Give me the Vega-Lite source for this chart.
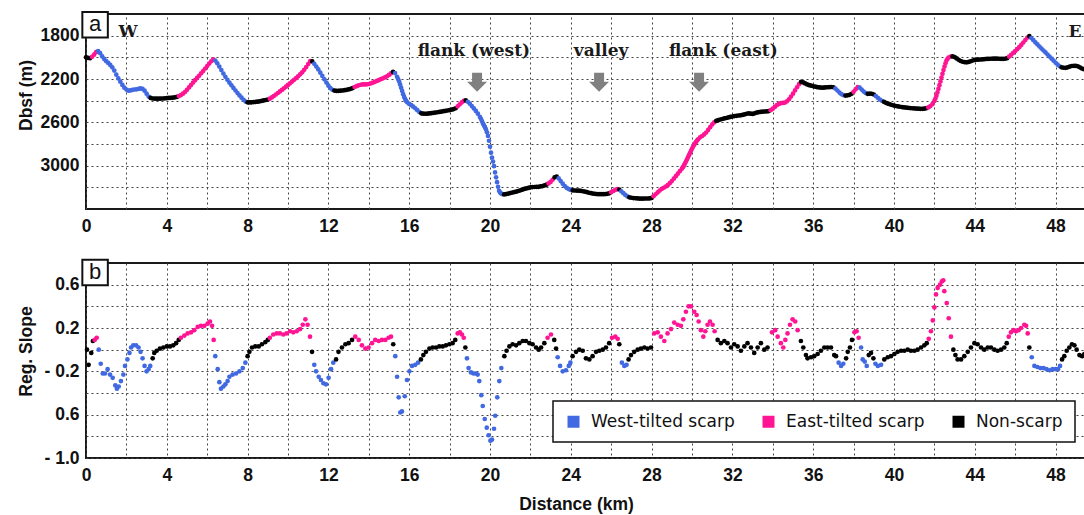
{
"$schema": "https://vega.github.io/schema/vega-lite/v6.json",
"padding": {"left": 16, "top": 6, "right": 0, "bottom": 2},
"spacing": 18,
"background": "white",
"config": {
  "view": {"stroke": "#1a1a1a", "strokeWidth": 2},
  "axis": {"grid": true, "gridDash": [2, 3], "gridColor": "#444", "gridWidth": 1, "domain": false, "ticks": false, "labelFlush": false,
    "labelFont": "Liberation Sans", "labelFontWeight": "bold", "labelFontSize": 17.5, "labelColor": "#111",
    "titleFont": "Liberation Sans", "titleFontWeight": "bold", "titleFontSize": 17.5, "titleColor": "#111"},
  "legend": {"strokeWidth": 1.5}
},
"resolve": {"scale": {"color": "independent"}},
"datasets": {
"prof": [
{"x":0,"d":2000,"c":"N"},{"x":0.1,"d":2005,"c":"N"},{"x":0.2,"d":2008,"c":"N"},{"x":0.3,"d":1995,"c":"E"},{"x":0.4,"d":1975,"c":"E"},{"x":0.5,"d":1952,"c":"E"},
{"x":0.6,"d":1942,"c":"W"},{"x":0.7,"d":1962,"c":"W"},{"x":0.8,"d":1992,"c":"W"},{"x":0.9,"d":2015,"c":"W"},{"x":1.0,"d":2035,"c":"W"},{"x":1.1,"d":2052,"c":"W"},{"x":1.2,"d":2070,"c":"W"},{"x":1.3,"d":2092,"c":"W"},{"x":1.4,"d":2122,"c":"W"},{"x":1.5,"d":2160,"c":"W"},{"x":1.6,"d":2195,"c":"W"},{"x":1.7,"d":2225,"c":"W"},{"x":1.8,"d":2255,"c":"W"},{"x":1.9,"d":2280,"c":"W"},{"x":2.0,"d":2298,"c":"W"},{"x":2.1,"d":2308,"c":"W"},{"x":2.2,"d":2305,"c":"W"},{"x":2.3,"d":2300,"c":"W"},{"x":2.4,"d":2297,"c":"W"},{"x":2.5,"d":2295,"c":"W"},{"x":2.6,"d":2292,"c":"W"},{"x":2.7,"d":2287,"c":"W"},{"x":2.8,"d":2292,"c":"W"},{"x":2.9,"d":2308,"c":"W"},{"x":3.0,"d":2335,"c":"W"},{"x":3.1,"d":2362,"c":"W"},
{"x":3.2,"d":2375,"c":"N"},{"x":3.3,"d":2380,"c":"N"},{"x":3.4,"d":2381,"c":"N"},{"x":3.5,"d":2382,"c":"N"},{"x":3.6,"d":2382,"c":"N"},{"x":3.7,"d":2381,"c":"N"},{"x":3.8,"d":2380,"c":"N"},{"x":3.9,"d":2378,"c":"N"},{"x":4.0,"d":2377,"c":"N"},{"x":4.1,"d":2375,"c":"N"},{"x":4.2,"d":2374,"c":"N"},{"x":4.3,"d":2372,"c":"N"},{"x":4.4,"d":2369,"c":"N"},{"x":4.5,"d":2365,"c":"N"},
{"x":4.6,"d":2358,"c":"E"},{"x":4.7,"d":2348,"c":"E"},{"x":4.8,"d":2335,"c":"E"},{"x":4.9,"d":2320,"c":"E"},{"x":5.0,"d":2300,"c":"E"},{"x":5.1,"d":2278,"c":"E"},{"x":5.2,"d":2256,"c":"E"},{"x":5.3,"d":2233,"c":"E"},{"x":5.4,"d":2211,"c":"E"},{"x":5.5,"d":2190,"c":"E"},{"x":5.6,"d":2170,"c":"E"},{"x":5.7,"d":2148,"c":"E"},{"x":5.8,"d":2126,"c":"E"},{"x":5.9,"d":2103,"c":"E"},{"x":6.0,"d":2080,"c":"E"},{"x":6.1,"d":2058,"c":"E"},{"x":6.2,"d":2036,"c":"E"},{"x":6.3,"d":2018,"c":"E"},
{"x":6.4,"d":2030,"c":"W"},{"x":6.5,"d":2055,"c":"W"},{"x":6.6,"d":2085,"c":"W"},{"x":6.7,"d":2118,"c":"W"},{"x":6.8,"d":2150,"c":"W"},{"x":6.9,"d":2180,"c":"W"},{"x":7.0,"d":2208,"c":"W"},{"x":7.1,"d":2234,"c":"W"},{"x":7.2,"d":2258,"c":"W"},{"x":7.3,"d":2282,"c":"W"},{"x":7.4,"d":2306,"c":"W"},{"x":7.5,"d":2330,"c":"W"},{"x":7.6,"d":2352,"c":"W"},{"x":7.7,"d":2372,"c":"W"},{"x":7.8,"d":2392,"c":"W"},{"x":7.9,"d":2408,"c":"W"},
{"x":8.0,"d":2415,"c":"N"},{"x":8.1,"d":2416,"c":"N"},{"x":8.2,"d":2415,"c":"N"},{"x":8.3,"d":2413,"c":"N"},{"x":8.4,"d":2411,"c":"N"},{"x":8.5,"d":2409,"c":"N"},{"x":8.6,"d":2406,"c":"N"},{"x":8.7,"d":2402,"c":"N"},{"x":8.8,"d":2398,"c":"N"},{"x":8.9,"d":2394,"c":"N"},{"x":9.0,"d":2390,"c":"N"},
{"x":9.1,"d":2382,"c":"E"},{"x":9.2,"d":2370,"c":"E"},{"x":9.3,"d":2357,"c":"E"},{"x":9.4,"d":2343,"c":"E"},{"x":9.5,"d":2329,"c":"E"},{"x":9.6,"d":2315,"c":"E"},{"x":9.7,"d":2301,"c":"E"},{"x":9.8,"d":2286,"c":"E"},{"x":9.9,"d":2271,"c":"E"},{"x":10.0,"d":2255,"c":"E"},{"x":10.1,"d":2240,"c":"E"},{"x":10.2,"d":2224,"c":"E"},{"x":10.3,"d":2208,"c":"E"},{"x":10.4,"d":2192,"c":"E"},{"x":10.5,"d":2175,"c":"E"},{"x":10.6,"d":2157,"c":"E"},{"x":10.7,"d":2138,"c":"E"},{"x":10.8,"d":2115,"c":"E"},{"x":10.9,"d":2090,"c":"E"},{"x":11.0,"d":2062,"c":"E"},{"x":11.1,"d":2035,"c":"E"},
{"x":11.2,"d":2038,"c":"N"},
{"x":11.3,"d":2060,"c":"W"},{"x":11.4,"d":2085,"c":"W"},{"x":11.5,"d":2112,"c":"W"},{"x":11.6,"d":2142,"c":"W"},{"x":11.7,"d":2172,"c":"W"},{"x":11.8,"d":2203,"c":"W"},{"x":11.9,"d":2233,"c":"W"},{"x":12.0,"d":2262,"c":"W"},{"x":12.1,"d":2285,"c":"W"},{"x":12.2,"d":2300,"c":"W"},
{"x":12.3,"d":2307,"c":"N"},{"x":12.4,"d":2310,"c":"N"},{"x":12.5,"d":2310,"c":"N"},{"x":12.6,"d":2308,"c":"N"},{"x":12.7,"d":2306,"c":"N"},{"x":12.8,"d":2303,"c":"N"},{"x":12.9,"d":2300,"c":"N"},{"x":13.0,"d":2296,"c":"N"},{"x":13.1,"d":2291,"c":"N"},{"x":13.2,"d":2284,"c":"N"},
{"x":13.3,"d":2274,"c":"E"},{"x":13.4,"d":2265,"c":"E"},{"x":13.5,"d":2258,"c":"E"},{"x":13.6,"d":2253,"c":"E"},{"x":13.7,"d":2250,"c":"E"},{"x":13.8,"d":2250,"c":"E"},{"x":13.9,"d":2249,"c":"E"},{"x":14.0,"d":2246,"c":"E"},{"x":14.1,"d":2241,"c":"E"},{"x":14.2,"d":2234,"c":"E"},{"x":14.3,"d":2226,"c":"E"},{"x":14.4,"d":2218,"c":"E"},{"x":14.5,"d":2210,"c":"E"},{"x":14.6,"d":2202,"c":"E"},{"x":14.7,"d":2194,"c":"E"},{"x":14.8,"d":2185,"c":"E"},{"x":14.9,"d":2175,"c":"E"},{"x":15.0,"d":2162,"c":"E"},{"x":15.1,"d":2148,"c":"E"},
{"x":15.2,"d":2135,"c":"N"},
{"x":15.3,"d":2145,"c":"W"},{"x":15.4,"d":2180,"c":"W"},{"x":15.45,"d":2200,"c":"W"},{"x":15.5,"d":2222,"c":"W"},{"x":15.55,"d":2250,"c":"W"},{"x":15.6,"d":2280,"c":"W"},{"x":15.65,"d":2310,"c":"W"},{"x":15.7,"d":2340,"c":"W"},{"x":15.75,"d":2365,"c":"W"},{"x":15.8,"d":2385,"c":"W"},{"x":15.85,"d":2402,"c":"W"},{"x":15.9,"d":2415,"c":"W"},{"x":16.0,"d":2430,"c":"W"},{"x":16.1,"d":2442,"c":"W"},{"x":16.2,"d":2455,"c":"W"},{"x":16.3,"d":2470,"c":"W"},{"x":16.4,"d":2488,"c":"W"},{"x":16.5,"d":2505,"c":"W"},
{"x":16.6,"d":2517,"c":"N"},{"x":16.7,"d":2520,"c":"N"},{"x":16.8,"d":2521,"c":"N"},{"x":16.9,"d":2520,"c":"N"},{"x":17.0,"d":2518,"c":"N"},{"x":17.1,"d":2515,"c":"N"},{"x":17.2,"d":2512,"c":"N"},{"x":17.3,"d":2510,"c":"N"},{"x":17.4,"d":2507,"c":"N"},{"x":17.5,"d":2504,"c":"N"},{"x":17.6,"d":2501,"c":"N"},{"x":17.7,"d":2497,"c":"N"},{"x":17.8,"d":2494,"c":"N"},{"x":17.9,"d":2491,"c":"N"},{"x":18.0,"d":2487,"c":"N"},{"x":18.1,"d":2483,"c":"N"},{"x":18.2,"d":2478,"c":"N"},{"x":18.3,"d":2470,"c":"N"},
{"x":18.4,"d":2452,"c":"E"},{"x":18.5,"d":2434,"c":"E"},{"x":18.6,"d":2416,"c":"E"},{"x":18.7,"d":2402,"c":"E"},
{"x":18.8,"d":2398,"c":"N"},
{"x":18.9,"d":2410,"c":"W"},{"x":19.0,"d":2428,"c":"W"},{"x":19.1,"d":2450,"c":"W"},{"x":19.2,"d":2472,"c":"W"},{"x":19.3,"d":2495,"c":"W"},{"x":19.4,"d":2520,"c":"W"},{"x":19.5,"d":2550,"c":"W"},{"x":19.55,"d":2568,"c":"W"},{"x":19.6,"d":2588,"c":"W"},{"x":19.65,"d":2610,"c":"W"},{"x":19.7,"d":2628,"c":"W"},{"x":19.75,"d":2645,"c":"W"},{"x":19.8,"d":2665,"c":"W"},{"x":19.85,"d":2692,"c":"W"},{"x":19.9,"d":2725,"c":"W"},{"x":19.95,"d":2770,"c":"W"},{"x":20.0,"d":2825,"c":"W"},{"x":20.05,"d":2880,"c":"W"},{"x":20.1,"d":2925,"c":"W"},{"x":20.15,"d":2962,"c":"W"},{"x":20.2,"d":3005,"c":"W"},{"x":20.25,"d":3062,"c":"W"},{"x":20.3,"d":3108,"c":"W"},{"x":20.35,"d":3152,"c":"W"},{"x":20.4,"d":3195,"c":"W"},{"x":20.45,"d":3232,"c":"W"},{"x":20.5,"d":3248,"c":"W"},{"x":20.55,"d":3257,"c":"W"},{"x":20.6,"d":3262,"c":"W"},
{"x":20.7,"d":3265,"c":"N"},{"x":20.8,"d":3262,"c":"N"},{"x":20.9,"d":3258,"c":"N"},{"x":21.0,"d":3253,"c":"N"},{"x":21.1,"d":3248,"c":"N"},{"x":21.2,"d":3244,"c":"N"},{"x":21.3,"d":3240,"c":"N"},{"x":21.4,"d":3234,"c":"N"},{"x":21.5,"d":3228,"c":"N"},{"x":21.6,"d":3222,"c":"N"},{"x":21.7,"d":3215,"c":"N"},{"x":21.8,"d":3210,"c":"N"},{"x":21.9,"d":3205,"c":"N"},{"x":22.0,"d":3200,"c":"N"},{"x":22.1,"d":3198,"c":"N"},{"x":22.2,"d":3197,"c":"N"},{"x":22.3,"d":3196,"c":"N"},{"x":22.4,"d":3195,"c":"N"},{"x":22.5,"d":3192,"c":"N"},{"x":22.6,"d":3188,"c":"N"},{"x":22.7,"d":3182,"c":"N"},{"x":22.8,"d":3175,"c":"N"},
{"x":22.9,"d":3164,"c":"E"},{"x":23.0,"d":3150,"c":"E"},{"x":23.1,"d":3130,"c":"E"},
{"x":23.2,"d":3108,"c":"N"},{"x":23.3,"d":3100,"c":"N"},
{"x":23.4,"d":3118,"c":"W"},{"x":23.5,"d":3142,"c":"W"},{"x":23.6,"d":3166,"c":"W"},{"x":23.7,"d":3188,"c":"W"},{"x":23.8,"d":3205,"c":"W"},{"x":23.9,"d":3216,"c":"W"},{"x":24.0,"d":3224,"c":"W"},
{"x":24.1,"d":3228,"c":"N"},{"x":24.2,"d":3229,"c":"N"},{"x":24.3,"d":3230,"c":"N"},{"x":24.4,"d":3231,"c":"N"},{"x":24.5,"d":3233,"c":"N"},{"x":24.6,"d":3236,"c":"N"},{"x":24.7,"d":3240,"c":"N"},{"x":24.8,"d":3245,"c":"N"},{"x":24.9,"d":3250,"c":"N"},{"x":25.0,"d":3254,"c":"N"},{"x":25.1,"d":3258,"c":"N"},{"x":25.2,"d":3260,"c":"N"},{"x":25.3,"d":3262,"c":"N"},{"x":25.4,"d":3263,"c":"N"},{"x":25.5,"d":3263,"c":"N"},{"x":25.6,"d":3263,"c":"N"},{"x":25.7,"d":3262,"c":"N"},{"x":25.8,"d":3260,"c":"N"},{"x":25.9,"d":3255,"c":"N"},
{"x":26.0,"d":3245,"c":"E"},{"x":26.1,"d":3234,"c":"E"},{"x":26.2,"d":3224,"c":"E"},{"x":26.3,"d":3216,"c":"E"},
{"x":26.4,"d":3220,"c":"N"},
{"x":26.5,"d":3236,"c":"W"},{"x":26.6,"d":3254,"c":"W"},{"x":26.7,"d":3270,"c":"W"},{"x":26.8,"d":3284,"c":"W"},
{"x":26.9,"d":3292,"c":"N"},{"x":27.0,"d":3296,"c":"N"},{"x":27.1,"d":3299,"c":"N"},{"x":27.2,"d":3301,"c":"N"},{"x":27.3,"d":3302,"c":"N"},{"x":27.4,"d":3304,"c":"N"},{"x":27.5,"d":3305,"c":"N"},{"x":27.6,"d":3304,"c":"N"},{"x":27.7,"d":3303,"c":"N"},{"x":27.8,"d":3303,"c":"N"},{"x":27.9,"d":3302,"c":"N"},{"x":28.0,"d":3298,"c":"N"},
{"x":28.1,"d":3282,"c":"E"},{"x":28.2,"d":3264,"c":"E"},{"x":28.3,"d":3247,"c":"E"},{"x":28.4,"d":3230,"c":"E"},{"x":28.5,"d":3215,"c":"E"},{"x":28.6,"d":3204,"c":"E"},{"x":28.7,"d":3193,"c":"E"},{"x":28.8,"d":3180,"c":"E"},{"x":28.9,"d":3162,"c":"E"},{"x":29.0,"d":3142,"c":"E"},{"x":29.1,"d":3120,"c":"E"},{"x":29.2,"d":3097,"c":"E"},{"x":29.3,"d":3074,"c":"E"},{"x":29.4,"d":3051,"c":"E"},{"x":29.5,"d":3028,"c":"E"},{"x":29.55,"d":3014,"c":"E"},{"x":29.6,"d":2998,"c":"E"},{"x":29.65,"d":2980,"c":"E"},{"x":29.7,"d":2962,"c":"E"},{"x":29.75,"d":2943,"c":"E"},{"x":29.8,"d":2923,"c":"E"},{"x":29.85,"d":2903,"c":"E"},{"x":29.9,"d":2883,"c":"E"},{"x":29.95,"d":2863,"c":"E"},{"x":30.0,"d":2844,"c":"E"},{"x":30.05,"d":2826,"c":"E"},{"x":30.1,"d":2810,"c":"E"},{"x":30.15,"d":2795,"c":"E"},{"x":30.2,"d":2781,"c":"E"},{"x":30.25,"d":2768,"c":"E"},{"x":30.3,"d":2756,"c":"E"},{"x":30.4,"d":2738,"c":"E"},{"x":30.5,"d":2726,"c":"E"},{"x":30.6,"d":2712,"c":"E"},{"x":30.7,"d":2694,"c":"E"},{"x":30.8,"d":2670,"c":"E"},{"x":30.9,"d":2645,"c":"E"},{"x":31.0,"d":2620,"c":"E"},{"x":31.1,"d":2600,"c":"E"},
{"x":31.2,"d":2586,"c":"N"},{"x":31.3,"d":2580,"c":"N"},{"x":31.4,"d":2574,"c":"N"},{"x":31.5,"d":2569,"c":"N"},{"x":31.6,"d":2564,"c":"N"},{"x":31.7,"d":2560,"c":"N"},{"x":31.8,"d":2555,"c":"N"},{"x":31.9,"d":2550,"c":"N"},{"x":32.0,"d":2546,"c":"N"},{"x":32.1,"d":2542,"c":"N"},{"x":32.2,"d":2540,"c":"N"},{"x":32.3,"d":2537,"c":"N"},{"x":32.4,"d":2535,"c":"N"},{"x":32.5,"d":2532,"c":"N"},{"x":32.6,"d":2527,"c":"N"},{"x":32.7,"d":2521,"c":"N"},{"x":32.8,"d":2518,"c":"N"},{"x":32.9,"d":2520,"c":"N"},{"x":33.0,"d":2522,"c":"N"},{"x":33.1,"d":2517,"c":"N"},{"x":33.2,"d":2511,"c":"N"},{"x":33.3,"d":2506,"c":"N"},{"x":33.4,"d":2504,"c":"N"},{"x":33.5,"d":2502,"c":"N"},{"x":33.6,"d":2500,"c":"N"},{"x":33.7,"d":2499,"c":"N"},{"x":33.8,"d":2496,"c":"N"},
{"x":33.9,"d":2488,"c":"E"},{"x":34.0,"d":2474,"c":"E"},{"x":34.1,"d":2458,"c":"E"},{"x":34.2,"d":2442,"c":"E"},{"x":34.3,"d":2430,"c":"E"},{"x":34.4,"d":2423,"c":"E"},{"x":34.5,"d":2421,"c":"E"},{"x":34.6,"d":2418,"c":"E"},{"x":34.7,"d":2406,"c":"E"},{"x":34.8,"d":2387,"c":"E"},{"x":34.9,"d":2362,"c":"E"},{"x":35.0,"d":2335,"c":"E"},{"x":35.1,"d":2305,"c":"E"},{"x":35.2,"d":2276,"c":"E"},{"x":35.3,"d":2248,"c":"E"},
{"x":35.4,"d":2226,"c":"N"},{"x":35.5,"d":2232,"c":"N"},{"x":35.6,"d":2241,"c":"N"},{"x":35.7,"d":2250,"c":"N"},{"x":35.8,"d":2257,"c":"N"},{"x":35.9,"d":2262,"c":"N"},{"x":36.0,"d":2267,"c":"N"},{"x":36.1,"d":2271,"c":"N"},{"x":36.2,"d":2275,"c":"N"},{"x":36.3,"d":2278,"c":"N"},{"x":36.4,"d":2280,"c":"N"},{"x":36.5,"d":2280,"c":"N"},{"x":36.6,"d":2278,"c":"N"},{"x":36.7,"d":2276,"c":"N"},{"x":36.8,"d":2275,"c":"N"},{"x":36.9,"d":2274,"c":"N"},{"x":37.0,"d":2276,"c":"N"},
{"x":37.1,"d":2288,"c":"W"},{"x":37.2,"d":2306,"c":"W"},{"x":37.3,"d":2325,"c":"W"},{"x":37.4,"d":2340,"c":"W"},{"x":37.5,"d":2350,"c":"W"},
{"x":37.6,"d":2353,"c":"N"},{"x":37.7,"d":2351,"c":"N"},{"x":37.8,"d":2346,"c":"N"},{"x":37.9,"d":2336,"c":"N"},
{"x":38.0,"d":2318,"c":"E"},{"x":38.1,"d":2295,"c":"E"},{"x":38.2,"d":2274,"c":"E"},
{"x":38.3,"d":2280,"c":"W"},{"x":38.4,"d":2298,"c":"W"},{"x":38.5,"d":2316,"c":"W"},{"x":38.6,"d":2330,"c":"W"},
{"x":38.7,"d":2337,"c":"N"},{"x":38.8,"d":2335,"c":"N"},{"x":38.9,"d":2336,"c":"N"},{"x":39.0,"d":2343,"c":"N"},
{"x":39.1,"d":2358,"c":"W"},{"x":39.2,"d":2374,"c":"W"},{"x":39.3,"d":2389,"c":"W"},{"x":39.4,"d":2401,"c":"W"},
{"x":39.5,"d":2411,"c":"N"},{"x":39.6,"d":2420,"c":"N"},{"x":39.7,"d":2428,"c":"N"},{"x":39.8,"d":2434,"c":"N"},{"x":39.9,"d":2440,"c":"N"},{"x":40.0,"d":2445,"c":"N"},{"x":40.1,"d":2449,"c":"N"},{"x":40.2,"d":2453,"c":"N"},{"x":40.3,"d":2456,"c":"N"},{"x":40.4,"d":2459,"c":"N"},{"x":40.5,"d":2462,"c":"N"},{"x":40.6,"d":2464,"c":"N"},{"x":40.7,"d":2466,"c":"N"},{"x":40.8,"d":2468,"c":"N"},{"x":40.9,"d":2470,"c":"N"},{"x":41.0,"d":2472,"c":"N"},{"x":41.1,"d":2473,"c":"N"},{"x":41.2,"d":2474,"c":"N"},{"x":41.3,"d":2475,"c":"N"},{"x":41.4,"d":2475,"c":"N"},{"x":41.5,"d":2474,"c":"N"},{"x":41.6,"d":2470,"c":"N"},
{"x":41.7,"d":2462,"c":"E"},{"x":41.8,"d":2450,"c":"E"},{"x":41.9,"d":2432,"c":"E"},{"x":42.0,"d":2402,"c":"E"},{"x":42.05,"d":2380,"c":"E"},{"x":42.1,"d":2354,"c":"E"},{"x":42.15,"d":2324,"c":"E"},{"x":42.2,"d":2292,"c":"E"},{"x":42.25,"d":2257,"c":"E"},{"x":42.3,"d":2222,"c":"E"},{"x":42.35,"d":2187,"c":"E"},{"x":42.4,"d":2152,"c":"E"},{"x":42.45,"d":2118,"c":"E"},{"x":42.5,"d":2085,"c":"E"},{"x":42.55,"d":2055,"c":"E"},{"x":42.6,"d":2030,"c":"E"},{"x":42.65,"d":2013,"c":"E"},{"x":42.7,"d":2002,"c":"E"},{"x":42.8,"d":1994,"c":"E"},
{"x":42.9,"d":1992,"c":"N"},{"x":43.0,"d":1998,"c":"N"},{"x":43.1,"d":2010,"c":"N"},{"x":43.2,"d":2023,"c":"N"},{"x":43.3,"d":2034,"c":"N"},{"x":43.4,"d":2041,"c":"N"},{"x":43.5,"d":2045,"c":"N"},{"x":43.6,"d":2046,"c":"N"},{"x":43.7,"d":2042,"c":"N"},{"x":43.8,"d":2036,"c":"N"},{"x":43.9,"d":2029,"c":"N"},{"x":44.0,"d":2024,"c":"N"},{"x":44.1,"d":2022,"c":"N"},{"x":44.2,"d":2021,"c":"N"},{"x":44.3,"d":2020,"c":"N"},{"x":44.4,"d":2018,"c":"N"},{"x":44.5,"d":2016,"c":"N"},{"x":44.6,"d":2015,"c":"N"},{"x":44.7,"d":2014,"c":"N"},{"x":44.8,"d":2013,"c":"N"},{"x":44.9,"d":2012,"c":"N"},{"x":45.0,"d":2012,"c":"N"},{"x":45.1,"d":2012,"c":"N"},{"x":45.2,"d":2013,"c":"N"},{"x":45.3,"d":2014,"c":"N"},{"x":45.4,"d":2014,"c":"N"},{"x":45.5,"d":2013,"c":"N"},{"x":45.6,"d":2008,"c":"N"},
{"x":45.7,"d":1993,"c":"E"},{"x":45.8,"d":1976,"c":"E"},{"x":45.9,"d":1959,"c":"E"},{"x":46.0,"d":1942,"c":"E"},{"x":46.1,"d":1925,"c":"E"},{"x":46.2,"d":1906,"c":"E"},{"x":46.3,"d":1885,"c":"E"},{"x":46.4,"d":1863,"c":"E"},{"x":46.5,"d":1840,"c":"E"},{"x":46.6,"d":1818,"c":"E"},
{"x":46.7,"d":1805,"c":"N"},
{"x":46.8,"d":1822,"c":"W"},{"x":46.9,"d":1842,"c":"W"},{"x":47.0,"d":1862,"c":"W"},{"x":47.1,"d":1881,"c":"W"},{"x":47.2,"d":1900,"c":"W"},{"x":47.3,"d":1919,"c":"W"},{"x":47.4,"d":1937,"c":"W"},{"x":47.5,"d":1955,"c":"W"},{"x":47.6,"d":1974,"c":"W"},{"x":47.7,"d":1993,"c":"W"},{"x":47.8,"d":2012,"c":"W"},{"x":47.9,"d":2031,"c":"W"},{"x":48.0,"d":2050,"c":"W"},{"x":48.1,"d":2068,"c":"W"},{"x":48.2,"d":2083,"c":"W"},
{"x":48.3,"d":2092,"c":"N"},{"x":48.4,"d":2096,"c":"N"},{"x":48.5,"d":2097,"c":"N"},{"x":48.6,"d":2092,"c":"N"},{"x":48.7,"d":2085,"c":"N"},{"x":48.8,"d":2080,"c":"N"},{"x":48.9,"d":2078,"c":"N"},{"x":49.0,"d":2078,"c":"N"},{"x":49.1,"d":2083,"c":"N"},{"x":49.2,"d":2092,"c":"N"},{"x":49.3,"d":2103,"c":"N"},{"x":49.4,"d":2110,"c":"N"},{"x":49.5,"d":2114,"c":"N"},{"x":49.6,"d":2116,"c":"N"},{"x":49.7,"d":2118,"c":"N"}
],
"slope": [
{"x":0.05,"s":0.0,"c":"N"},{"x":0.13,"s":-0.14,"c":"N"},{"x":0.26,"s":-0.03,"c":"N"},{"x":0.34,"s":0.08,"c":"N"},{"x":0.43,"s":0.09,"c":"E"},{"x":0.53,"s":0.11,"c":"E"},
{"x":0.63,"s":0.0,"c":"W"},{"x":0.73,"s":-0.13,"c":"W"},{"x":0.83,"s":-0.22,"c":"W"},{"x":0.94,"s":-0.22,"c":"W"},{"x":1.07,"s":-0.18,"c":"W"},{"x":1.19,"s":-0.23,"c":"W"},{"x":1.32,"s":-0.26,"c":"W"},{"x":1.45,"s":-0.33,"c":"W"},{"x":1.53,"s":-0.36,"c":"W"},{"x":1.62,"s":-0.34,"c":"W"},{"x":1.73,"s":-0.29,"c":"W"},{"x":1.85,"s":-0.23,"c":"W"},{"x":1.93,"s":-0.15,"c":"W"},{"x":2.05,"s":-0.09,"c":"W"},{"x":2.15,"s":-0.03,"c":"W"},{"x":2.23,"s":0.02,"c":"W"},{"x":2.34,"s":0.04,"c":"W"},{"x":2.48,"s":0.04,"c":"W"},{"x":2.6,"s":0.02,"c":"W"},{"x":2.7,"s":-0.02,"c":"W"},{"x":2.8,"s":-0.08,"c":"W"},{"x":2.9,"s":-0.15,"c":"W"},{"x":3.0,"s":-0.2,"c":"W"},{"x":3.1,"s":-0.18,"c":"W"},{"x":3.18,"s":-0.15,"c":"W"},
{"x":3.3,"s":-0.08,"c":"N"},{"x":3.38,"s":-0.03,"c":"N"},{"x":3.5,"s":-0.01,"c":"N"},{"x":3.66,"s":0.01,"c":"N"},{"x":3.83,"s":0.02,"c":"N"},{"x":4.0,"s":0.03,"c":"N"},{"x":4.16,"s":0.03,"c":"N"},{"x":4.32,"s":0.04,"c":"N"},{"x":4.46,"s":0.06,"c":"N"},{"x":4.59,"s":0.09,"c":"N"},
{"x":4.7,"s":0.11,"c":"E"},{"x":4.87,"s":0.13,"c":"E"},{"x":5.03,"s":0.15,"c":"E"},{"x":5.2,"s":0.16,"c":"E"},{"x":5.36,"s":0.18,"c":"E"},{"x":5.53,"s":0.21,"c":"E"},{"x":5.69,"s":0.22,"c":"E"},{"x":5.86,"s":0.22,"c":"E"},{"x":6.02,"s":0.24,"c":"E"},{"x":6.14,"s":0.26,"c":"E"},{"x":6.24,"s":0.22,"c":"E"},{"x":6.32,"s":0.09,"c":"E"},
{"x":6.4,"s":-0.06,"c":"W"},{"x":6.52,"s":-0.18,"c":"W"},{"x":6.6,"s":-0.3,"c":"W"},{"x":6.68,"s":-0.36,"c":"W"},{"x":6.8,"s":-0.34,"c":"W"},{"x":6.9,"s":-0.32,"c":"W"},{"x":7.01,"s":-0.29,"c":"W"},{"x":7.1,"s":-0.25,"c":"W"},{"x":7.26,"s":-0.23,"c":"W"},{"x":7.43,"s":-0.22,"c":"W"},{"x":7.6,"s":-0.2,"c":"W"},{"x":7.76,"s":-0.17,"c":"W"},{"x":7.89,"s":-0.12,"c":"W"},
{"x":8.0,"s":-0.06,"c":"N"},{"x":8.09,"s":-0.02,"c":"N"},{"x":8.22,"s":0.02,"c":"N"},{"x":8.38,"s":0.03,"c":"N"},{"x":8.55,"s":0.03,"c":"N"},{"x":8.71,"s":0.05,"c":"N"},{"x":8.88,"s":0.07,"c":"N"},{"x":9.0,"s":0.09,"c":"N"},
{"x":9.1,"s":0.11,"c":"E"},{"x":9.27,"s":0.14,"c":"E"},{"x":9.44,"s":0.15,"c":"E"},{"x":9.6,"s":0.15,"c":"E"},{"x":9.77,"s":0.14,"c":"E"},{"x":9.93,"s":0.15,"c":"E"},{"x":10.1,"s":0.17,"c":"E"},{"x":10.26,"s":0.16,"c":"E"},{"x":10.43,"s":0.17,"c":"E"},{"x":10.6,"s":0.19,"c":"E"},{"x":10.73,"s":0.23,"c":"E"},{"x":10.86,"s":0.28,"c":"E"},{"x":10.97,"s":0.23,"c":"E"},{"x":11.09,"s":0.12,"c":"E"},
{"x":11.19,"s":-0.02,"c":"N"},
{"x":11.3,"s":-0.14,"c":"W"},{"x":11.39,"s":-0.2,"c":"W"},{"x":11.52,"s":-0.25,"c":"W"},{"x":11.63,"s":-0.28,"c":"W"},{"x":11.75,"s":-0.31,"c":"W"},{"x":11.88,"s":-0.32,"c":"W"},{"x":12.01,"s":-0.26,"c":"W"},{"x":12.13,"s":-0.18,"c":"W"},{"x":12.24,"s":-0.12,"c":"W"},
{"x":12.38,"s":-0.09,"c":"N"},{"x":12.5,"s":-0.02,"c":"N"},{"x":12.67,"s":0.02,"c":"N"},{"x":12.84,"s":0.05,"c":"N"},{"x":13.0,"s":0.06,"c":"N"},{"x":13.17,"s":0.09,"c":"N"},
{"x":13.33,"s":0.12,"c":"E"},{"x":13.5,"s":0.09,"c":"E"},{"x":13.66,"s":0.04,"c":"E"},{"x":13.83,"s":0.01,"c":"E"},{"x":13.99,"s":0.02,"c":"E"},{"x":14.16,"s":0.06,"c":"E"},{"x":14.32,"s":0.09,"c":"E"},{"x":14.49,"s":0.08,"c":"E"},{"x":14.65,"s":0.09,"c":"E"},{"x":14.82,"s":0.09,"c":"E"},{"x":14.98,"s":0.11,"c":"E"},{"x":15.1,"s":0.12,"c":"E"},
{"x":15.21,"s":0.05,"c":"N"},
{"x":15.31,"s":-0.06,"c":"W"},{"x":15.4,"s":-0.25,"c":"W"},{"x":15.48,"s":-0.44,"c":"W"},{"x":15.56,"s":-0.58,"c":"W"},{"x":15.64,"s":-0.57,"c":"W"},{"x":15.78,"s":-0.43,"c":"W"},{"x":15.89,"s":-0.28,"c":"W"},{"x":16.01,"s":-0.2,"c":"W"},{"x":16.14,"s":-0.15,"c":"W"},{"x":16.3,"s":-0.14,"c":"W"},{"x":16.44,"s":-0.12,"c":"W"},
{"x":16.58,"s":-0.09,"c":"N"},{"x":16.7,"s":-0.05,"c":"N"},{"x":16.83,"s":-0.02,"c":"N"},{"x":17.0,"s":0.01,"c":"N"},{"x":17.16,"s":0.02,"c":"N"},{"x":17.33,"s":0.02,"c":"N"},{"x":17.49,"s":0.03,"c":"N"},{"x":17.66,"s":0.03,"c":"N"},{"x":17.82,"s":0.04,"c":"N"},{"x":17.99,"s":0.05,"c":"N"},{"x":18.15,"s":0.06,"c":"N"},{"x":18.28,"s":0.09,"c":"N"},
{"x":18.4,"s":0.15,"c":"E"},{"x":18.51,"s":0.16,"c":"E"},{"x":18.61,"s":0.14,"c":"E"},{"x":18.7,"s":0.11,"c":"E"},
{"x":18.78,"s":0.02,"c":"N"},
{"x":18.86,"s":-0.08,"c":"W"},{"x":18.94,"s":-0.17,"c":"W"},{"x":19.06,"s":-0.21,"c":"W"},{"x":19.18,"s":-0.22,"c":"W"},{"x":19.3,"s":-0.22,"c":"W"},{"x":19.39,"s":-0.23,"c":"W"},{"x":19.47,"s":-0.29,"c":"W"},{"x":19.57,"s":-0.42,"c":"W"},{"x":19.64,"s":-0.52,"c":"W"},{"x":19.74,"s":-0.64,"c":"W"},{"x":19.84,"s":-0.72,"c":"W"},{"x":19.93,"s":-0.79,"c":"W"},{"x":20.02,"s":-0.84,"c":"W"},{"x":20.1,"s":-0.83,"c":"W"},{"x":20.2,"s":-0.73,"c":"W"},{"x":20.26,"s":-0.61,"c":"W"},{"x":20.36,"s":-0.44,"c":"W"},{"x":20.46,"s":-0.29,"c":"W"},{"x":20.56,"s":-0.17,"c":"W"},
{"x":20.71,"s":-0.06,"c":"N"},{"x":20.82,"s":-0.01,"c":"N"},{"x":20.96,"s":0.03,"c":"N"},{"x":21.12,"s":0.05,"c":"N"},{"x":21.29,"s":0.04,"c":"N"},{"x":21.45,"s":0.06,"c":"N"},{"x":21.62,"s":0.08,"c":"N"},{"x":21.78,"s":0.08,"c":"N"},{"x":21.95,"s":0.06,"c":"N"},{"x":22.11,"s":0.05,"c":"N"},{"x":22.28,"s":0.02,"c":"N"},{"x":22.41,"s":0.0,"c":"N"},{"x":22.53,"s":0.02,"c":"N"},{"x":22.69,"s":0.06,"c":"N"},
{"x":22.85,"s":0.11,"c":"E"},{"x":23.02,"s":0.14,"c":"E"},
{"x":23.18,"s":0.09,"c":"N"},{"x":23.27,"s":0.01,"c":"N"},
{"x":23.35,"s":-0.07,"c":"W"},{"x":23.47,"s":-0.15,"c":"W"},{"x":23.6,"s":-0.2,"c":"W"},{"x":23.76,"s":-0.19,"c":"W"},{"x":23.9,"s":-0.15,"c":"W"},{"x":23.98,"s":-0.12,"c":"W"},
{"x":24.09,"s":-0.06,"c":"N"},{"x":24.26,"s":-0.02,"c":"N"},{"x":24.42,"s":0.0,"c":"N"},{"x":24.59,"s":-0.01,"c":"N"},{"x":24.75,"s":-0.08,"c":"N"},{"x":24.92,"s":-0.09,"c":"N"},{"x":25.08,"s":-0.06,"c":"N"},{"x":25.25,"s":-0.02,"c":"N"},{"x":25.41,"s":-0.01,"c":"N"},{"x":25.58,"s":0.0,"c":"N"},{"x":25.74,"s":0.02,"c":"N"},{"x":25.9,"s":0.06,"c":"N"},
{"x":26.04,"s":0.11,"c":"E"},{"x":26.2,"s":0.12,"c":"E"},{"x":26.32,"s":0.1,"c":"E"},
{"x":26.4,"s":0.05,"c":"N"},
{"x":26.53,"s":-0.12,"c":"W"},{"x":26.65,"s":-0.15,"c":"W"},{"x":26.76,"s":-0.14,"c":"W"},
{"x":26.86,"s":-0.09,"c":"N"},{"x":26.98,"s":-0.05,"c":"N"},{"x":27.14,"s":-0.02,"c":"N"},{"x":27.31,"s":0.0,"c":"N"},{"x":27.47,"s":0.01,"c":"N"},{"x":27.64,"s":0.02,"c":"N"},{"x":27.8,"s":0.01,"c":"N"},{"x":27.97,"s":0.02,"c":"N"},
{"x":28.13,"s":0.15,"c":"E"},{"x":28.3,"s":0.16,"c":"E"},{"x":28.46,"s":0.12,"c":"E"},{"x":28.63,"s":0.08,"c":"E"},{"x":28.79,"s":0.15,"c":"E"},{"x":28.96,"s":0.19,"c":"E"},{"x":29.12,"s":0.25,"c":"E"},{"x":29.29,"s":0.23,"c":"E"},{"x":29.45,"s":0.22,"c":"E"},{"x":29.57,"s":0.28,"c":"E"},{"x":29.7,"s":0.35,"c":"E"},{"x":29.83,"s":0.4,"c":"E"},{"x":29.95,"s":0.4,"c":"E"},{"x":30.11,"s":0.35,"c":"E"},{"x":30.23,"s":0.32,"c":"E"},{"x":30.33,"s":0.26,"c":"E"},{"x":30.44,"s":0.18,"c":"E"},{"x":30.56,"s":0.12,"c":"E"},{"x":30.66,"s":0.17,"c":"E"},{"x":30.77,"s":0.23,"c":"E"},{"x":30.89,"s":0.26,"c":"E"},{"x":31.02,"s":0.23,"c":"E"},{"x":31.12,"s":0.17,"c":"E"},
{"x":31.27,"s":0.09,"c":"N"},{"x":31.43,"s":0.06,"c":"N"},{"x":31.6,"s":0.08,"c":"N"},{"x":31.76,"s":0.06,"c":"N"},{"x":31.93,"s":0.02,"c":"N"},{"x":32.09,"s":0.05,"c":"N"},{"x":32.26,"s":0.03,"c":"N"},{"x":32.42,"s":-0.01,"c":"N"},{"x":32.59,"s":0.03,"c":"N"},{"x":32.75,"s":0.06,"c":"N"},{"x":32.92,"s":0.02,"c":"N"},{"x":33.08,"s":-0.03,"c":"N"},{"x":33.25,"s":0.02,"c":"N"},{"x":33.41,"s":0.06,"c":"N"},{"x":33.58,"s":0.0,"c":"N"},{"x":33.74,"s":0.02,"c":"N"},
{"x":33.96,"s":0.16,"c":"E"},{"x":34.12,"s":0.18,"c":"E"},{"x":34.24,"s":0.12,"c":"E"},{"x":34.4,"s":0.06,"c":"E"},{"x":34.52,"s":0.02,"c":"E"},{"x":34.62,"s":0.09,"c":"E"},{"x":34.73,"s":0.15,"c":"E"},{"x":34.85,"s":0.23,"c":"E"},{"x":34.98,"s":0.28,"c":"E"},{"x":35.11,"s":0.26,"c":"E"},{"x":35.23,"s":0.18,"c":"E"},
{"x":35.39,"s":0.08,"c":"N"},{"x":35.51,"s":0.02,"c":"N"},{"x":35.64,"s":-0.05,"c":"N"},{"x":35.72,"s":-0.08,"c":"N"},{"x":35.89,"s":-0.07,"c":"N"},{"x":36.05,"s":-0.06,"c":"N"},{"x":36.22,"s":-0.04,"c":"N"},{"x":36.38,"s":-0.01,"c":"N"},{"x":36.55,"s":0.02,"c":"N"},{"x":36.71,"s":0.02,"c":"N"},{"x":36.88,"s":0.02,"c":"N"},{"x":37.04,"s":-0.05,"c":"N"},{"x":37.13,"s":-0.06,"c":"N"},
{"x":37.26,"s":-0.12,"c":"W"},{"x":37.38,"s":-0.15,"c":"W"},{"x":37.49,"s":-0.13,"c":"W"},
{"x":37.63,"s":-0.08,"c":"N"},{"x":37.71,"s":-0.02,"c":"N"},{"x":37.82,"s":0.02,"c":"N"},{"x":37.92,"s":0.09,"c":"N"},
{"x":38.04,"s":0.16,"c":"E"},{"x":38.15,"s":0.17,"c":"E"},{"x":38.25,"s":0.11,"c":"E"},
{"x":38.37,"s":0.02,"c":"W"},{"x":38.45,"s":-0.09,"c":"W"},{"x":38.55,"s":-0.11,"c":"W"},{"x":38.65,"s":-0.15,"c":"W"},
{"x":38.75,"s":-0.05,"c":"N"},{"x":38.86,"s":-0.03,"c":"N"},{"x":38.98,"s":-0.08,"c":"N"},
{"x":39.08,"s":-0.13,"c":"W"},{"x":39.2,"s":-0.15,"c":"W"},{"x":39.36,"s":-0.14,"c":"W"},
{"x":39.52,"s":-0.09,"c":"N"},{"x":39.69,"s":-0.07,"c":"N"},{"x":39.85,"s":-0.06,"c":"N"},{"x":40.02,"s":-0.04,"c":"N"},{"x":40.18,"s":-0.02,"c":"N"},{"x":40.35,"s":-0.01,"c":"N"},{"x":40.51,"s":-0.01,"c":"N"},{"x":40.68,"s":0.0,"c":"N"},{"x":40.84,"s":-0.01,"c":"N"},{"x":41.01,"s":-0.01,"c":"N"},{"x":41.17,"s":0.0,"c":"N"},{"x":41.34,"s":0.02,"c":"N"},{"x":41.5,"s":0.04,"c":"N"},{"x":41.62,"s":0.06,"c":"N"},
{"x":41.72,"s":0.1,"c":"E"},{"x":41.83,"s":0.17,"c":"E"},{"x":41.92,"s":0.27,"c":"E"},{"x":42.0,"s":0.39,"c":"E"},{"x":42.08,"s":0.51,"c":"E"},{"x":42.16,"s":0.57,"c":"E"},{"x":42.28,"s":0.6,"c":"E"},{"x":42.37,"s":0.63,"c":"E"},{"x":42.44,"s":0.64,"c":"E"},{"x":42.49,"s":0.54,"c":"E"},{"x":42.61,"s":0.43,"c":"E"},{"x":42.71,"s":0.29,"c":"E"},{"x":42.82,"s":0.12,"c":"E"},
{"x":42.94,"s":0.0,"c":"N"},{"x":43.04,"s":-0.05,"c":"N"},{"x":43.15,"s":-0.09,"c":"N"},{"x":43.32,"s":-0.09,"c":"N"},{"x":43.48,"s":-0.06,"c":"N"},{"x":43.65,"s":-0.02,"c":"N"},{"x":43.81,"s":0.02,"c":"N"},{"x":43.98,"s":0.06,"c":"N"},{"x":44.14,"s":0.05,"c":"N"},{"x":44.31,"s":0.02,"c":"N"},{"x":44.47,"s":0.0,"c":"N"},{"x":44.64,"s":0.02,"c":"N"},{"x":44.8,"s":0.02,"c":"N"},{"x":44.97,"s":0.0,"c":"N"},{"x":45.13,"s":-0.01,"c":"N"},{"x":45.3,"s":0.0,"c":"N"},{"x":45.46,"s":0.02,"c":"N"},{"x":45.58,"s":0.06,"c":"N"},
{"x":45.68,"s":0.12,"c":"E"},{"x":45.79,"s":0.16,"c":"E"},{"x":45.91,"s":0.18,"c":"E"},{"x":46.04,"s":0.17,"c":"E"},{"x":46.17,"s":0.18,"c":"E"},{"x":46.29,"s":0.2,"c":"E"},{"x":46.45,"s":0.23,"c":"E"},{"x":46.54,"s":0.22,"c":"E"},{"x":46.62,"s":0.15,"c":"E"},
{"x":46.7,"s":0.02,"c":"N"},
{"x":46.82,"s":-0.07,"c":"W"},{"x":46.95,"s":-0.15,"c":"W"},{"x":47.1,"s":-0.16,"c":"W"},{"x":47.25,"s":-0.17,"c":"W"},{"x":47.4,"s":-0.17,"c":"W"},{"x":47.55,"s":-0.18,"c":"W"},{"x":47.7,"s":-0.19,"c":"W"},{"x":47.85,"s":-0.18,"c":"W"},{"x":48.0,"s":-0.18,"c":"W"},{"x":48.12,"s":-0.18,"c":"W"},{"x":48.22,"s":-0.15,"c":"W"},
{"x":48.32,"s":-0.09,"c":"N"},{"x":48.43,"s":-0.06,"c":"N"},{"x":48.55,"s":-0.01,"c":"N"},{"x":48.68,"s":0.02,"c":"N"},{"x":48.81,"s":0.05,"c":"N"},{"x":48.93,"s":0.04,"c":"N"},{"x":49.04,"s":0.0,"c":"N"},{"x":49.18,"s":-0.05,"c":"N"},{"x":49.31,"s":-0.06,"c":"N"},{"x":49.42,"s":-0.04,"c":"N"}
]
},
"vconcat": [
{
  "width": 1010, "height": 195,
  "encoding": {
    "x": {"field": "x", "type": "quantitative", "scale": {"domain": [0, 50], "nice": false, "zero": false},
      "axis": {"values": [0,2,4,6,8,10,12,14,16,18,20,22,24,26,28,30,32,34,36,38,40,42,44,46,48], "format": "d",
        "labelExpr": "datum.value % 4 == 0 ? datum.label : ''", "title": null, "labelPadding": 8}},
    "y": {"field": "d", "type": "quantitative", "scale": {"domain": [1600, 3400], "reverse": true, "nice": false, "zero": false},
      "axis": {"values": [1800,2000,2200,2400,2600,2800,3000,3200], "format": "d",
        "labelExpr": "datum.value % 400 == 0 ? '' : datum.label", "labelPadding": 7,
        "title": "Dbsf (m)", "titleX": -60, "titleY": 81, "titleAngle": 270, "titleAlign": "center", "titleBaseline": "middle"}}
  },
  "layer": [
    {"data": {"name": "prof"}, "mark": {"type": "circle", "size": 22, "opacity": 1},
     "encoding": {"color": {"field": "c", "type": "nominal", "scale": {"domain": ["W","E","N"], "range": ["#4169E1","#FF1493","#000000"]}, "legend": null}}},
    {"data": {"values": [{"x": 19.36, "d": 2225}, {"x": 25.4, "d": 2225}, {"x": 30.35, "d": 2225}]},
     "mark": {"type": "point", "shape": "M-0.5,-0.9L0.5,-0.9L0.5,0L1,0L0,1L-1,0L-0.5,0Z", "filled": true, "color": "#808080", "size": 400, "opacity": 1}},
    {"data": {"values": [{"x": 19.2, "d": 1940, "t": "flank (west)"}, {"x": 25.5, "d": 1940, "t": "valley"}, {"x": 31.55, "d": 1940, "t": "flank (east)"}, {"x": 2.08, "d": 1770, "t": "W"}, {"x": 48.96, "d": 1768, "t": "E"}]},
     "mark": {"type": "text", "font": "DejaVu Serif", "fontWeight": "bold", "fontSize": 17, "color": "#1a1a1a", "baseline": "middle", "align": "center"},
     "encoding": {"text": {"field": "t"}}},
    {"data": {"values": [{"x": 0.45, "d": 1699, "t": "a"}]},
     "mark": {"type": "point", "shape": "square", "size": 650, "filled": true, "fill": "white", "stroke": "#111", "strokeWidth": 2, "opacity": 1}},
    {"data": {"values": [{"x": 0.45, "d": 1699, "t": "a"}]},
     "mark": {"type": "text", "font": "Liberation Sans", "fontSize": 22, "color": "#111", "baseline": "middle", "align": "center", "dy": -1},
     "encoding": {"text": {"field": "t"}}}
  ]
},
{
  "width": 1010, "height": 195,
  "encoding": {
    "x": {"field": "x", "type": "quantitative", "scale": {"domain": [0, 50], "nice": false, "zero": false},
      "axis": {"values": [0,2,4,6,8,10,12,14,16,18,20,22,24,26,28,30,32,34,36,38,40,42,44,46,48], "format": "d",
        "labelExpr": "datum.value % 4 == 0 ? datum.label : ''", "labelPadding": 8,
        "title": "Distance (km)", "titleX": 490, "titleY": 46, "titleAlign": "center", "titleBaseline": "middle"}},
    "y": {"field": "s", "type": "quantitative", "scale": {"domain": [-1.0, 0.8], "nice": false, "zero": false},
      "axis": {"values": [-1.0,-0.8,-0.6,-0.4,-0.2,0,0.2,0.4,0.6],
        "labelExpr": "abs(datum.value-0.6)<0.01 ? '0.6' : abs(datum.value-0.2)<0.01 ? '0.2' : abs(datum.value+0.2)<0.01 ? '- 0.2' : abs(datum.value+0.6)<0.01 ? '0.6' : abs(datum.value+1)<0.01 ? '- 1.0' : ''",
        "labelPadding": 7,
        "title": "Reg. Slope", "titleX": -60, "titleY": 88, "titleAngle": 270, "titleAlign": "center", "titleBaseline": "middle"}}
  },
  "layer": [
    {"data": {"name": "slope"}, "mark": {"type": "circle", "size": 22, "opacity": 1},
     "encoding": {"color": {"field": "c", "type": "nominal", "scale": {"domain": ["W","E","N"], "range": ["#4169E1","#FF1493","#000000"]},
       "legend": {"orient": "none", "legendX": 467, "legendY": 138, "direction": "horizontal", "columns": 3, "title": null,
         "symbolType": "square", "symbolSize": 144, "symbolStrokeWidth": 0, "labelFont": "DejaVu Sans", "labelFontSize": 17, "labelFontWeight": "normal", "labelColor": "#111",
         "labelOffset": 9, "columnPadding": 25, "padding": 12, "strokeColor": "#111", "fillColor": "white",
         "labelExpr": "datum.value == 'W' ? 'West-tilted scarp' : datum.value == 'E' ? 'East-tilted scarp' : 'Non-scarp'"}}}},
    {"data": {"values": [{"x": 0.45, "s": 0.712, "t": "b"}]},
     "mark": {"type": "point", "shape": "square", "size": 650, "filled": true, "fill": "white", "stroke": "#111", "strokeWidth": 2, "opacity": 1}},
    {"data": {"values": [{"x": 0.45, "s": 0.712, "t": "b"}]},
     "mark": {"type": "text", "font": "Liberation Sans", "fontSize": 22, "color": "#111", "baseline": "middle", "align": "center", "dy": -1},
     "encoding": {"text": {"field": "t"}}}
  ]
}
]
}
